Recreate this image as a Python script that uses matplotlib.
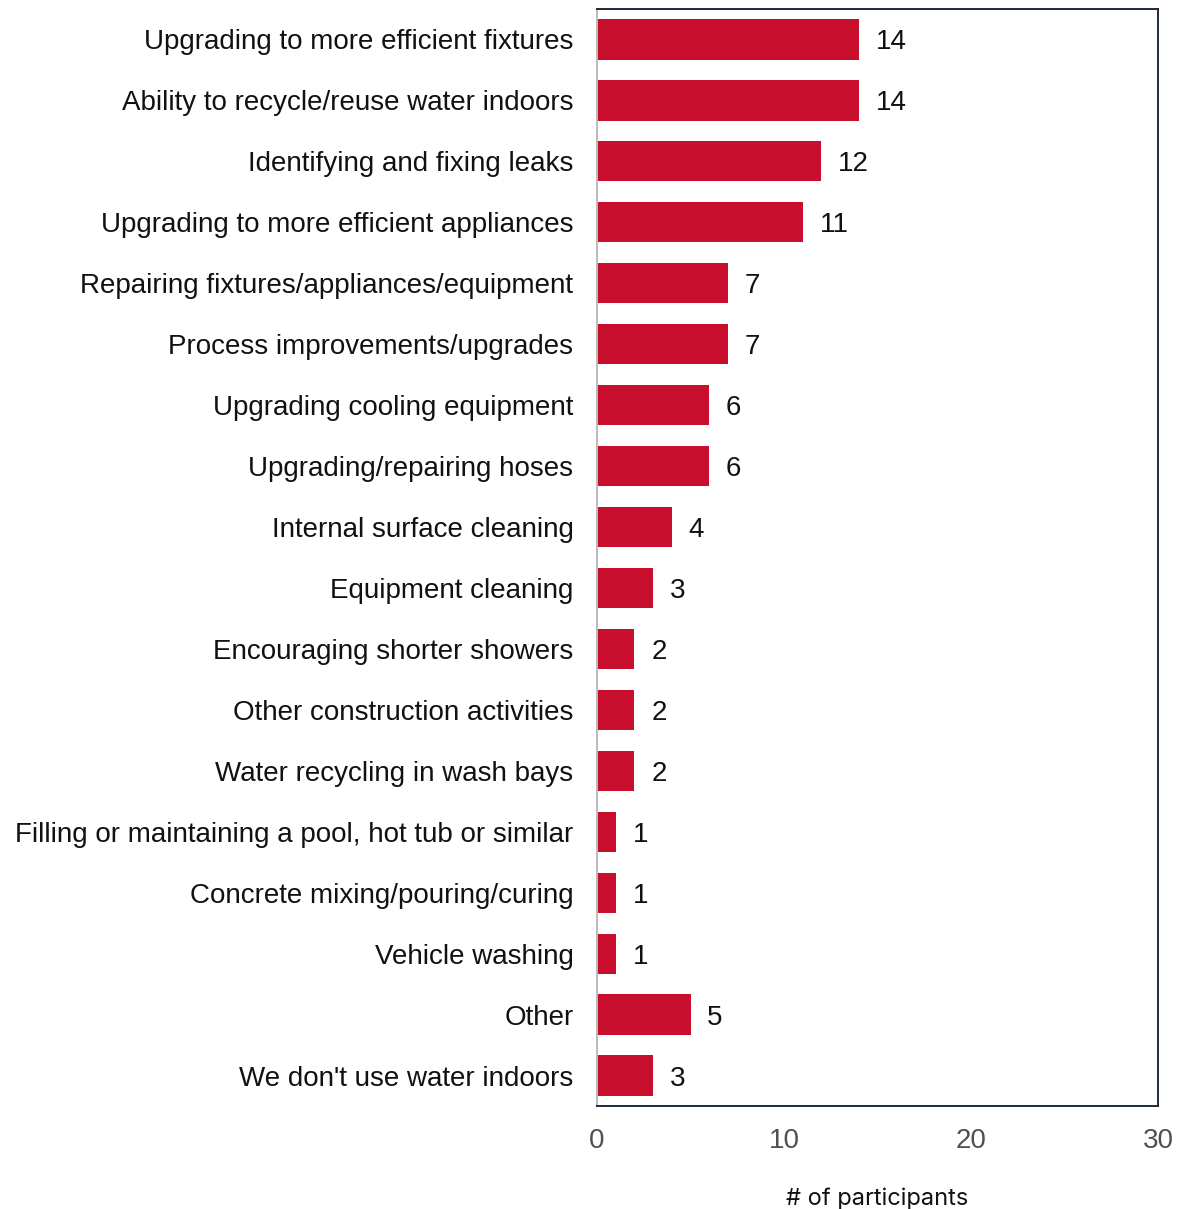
import matplotlib
matplotlib.use("Agg")
import matplotlib.pyplot as plt

categories = [
    "Upgrading to more efficient fixtures",
    "Ability to recycle/reuse water indoors",
    "Identifying and fixing leaks",
    "Upgrading to more efficient appliances",
    "Repairing fixtures/appliances/equipment",
    "Process improvements/upgrades",
    "Upgrading cooling equipment",
    "Upgrading/repairing hoses",
    "Internal surface cleaning",
    "Equipment cleaning",
    "Encouraging shorter showers",
    "Other construction activities",
    "Water recycling in wash bays",
    "Filling or maintaining a pool, hot tub or similar",
    "Concrete mixing/pouring/curing",
    "Vehicle washing",
    "Other",
    "We don't use water indoors",
]
values = [14, 14, 12, 11, 7, 7, 6, 6, 4, 3, 2, 2, 2, 1, 1, 1, 5, 3]
x_ticks = [0, 10, 20, 30]

MAIN_FONT = "Liberation Sans"
plt.rcParams["font.family"] = MAIN_FONT

fig = plt.figure(figsize=(11.8, 12.09), dpi=100)
ax = fig.add_axes([597 / 1180, 1 - 1106 / 1209, (1158 - 597) / 1180, (1106 - 9) / 1209])

y = list(range(len(categories)))
ax.barh(y, values, height=0.66, color="#C8102E", zorder=2)
for yi, v in zip(y, values):
    ax.text(v + 0.9, yi, str(v), va="center_baseline", ha="left", fontsize=20,
            color="#111111", family=MAIN_FONT)

ax.set_ylim(len(categories) - 0.5, -0.5)
ax.set_xlim(0, 30)
ax.set_yticks(y)
ax.set_yticklabels(categories, fontsize=20, color="#111111", family=MAIN_FONT)
ax.set_xticks(x_ticks)
ax.set_xticklabels([str(t) for t in x_ticks], fontsize=20, color="#505050", family=MAIN_FONT)
ax.tick_params(axis="both", length=0)
ax.tick_params(axis="y", pad=17)
ax.tick_params(axis="x", pad=16)

for side in ("top", "right", "bottom"):
    ax.spines[side].set_color("#1B2A3A")
    ax.spines[side].set_linewidth(1.4)
ax.spines["left"].set_color("#BBBBBB")
ax.spines["left"].set_linewidth(1.4)

ax.set_xlabel("# of participants", fontsize=17, color="#111111", family="Inter", labelpad=24)

fig.savefig("out.png", dpi=100)
